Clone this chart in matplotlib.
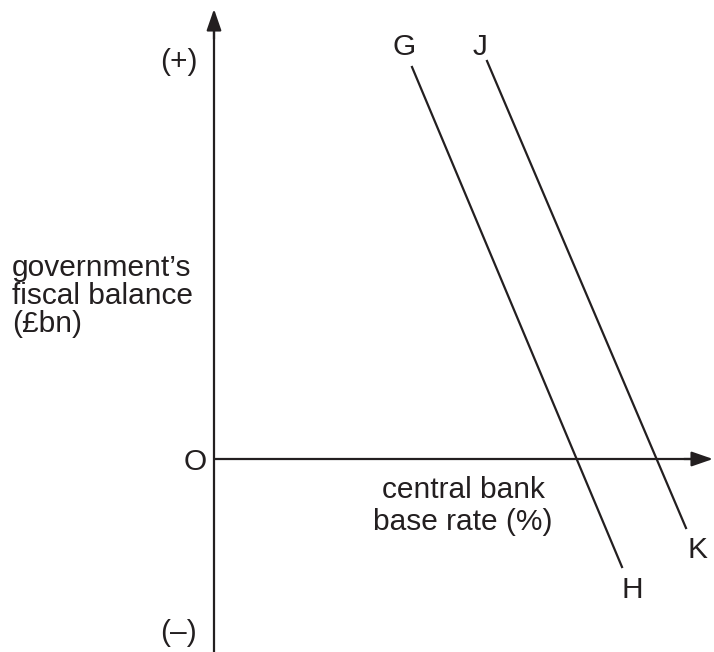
import matplotlib
matplotlib.use("Agg")
import matplotlib.pyplot as plt

# Data (origin O at axis intersection; x = base rate, y = fiscal balance, arbitrary units)
curve_names = ["GH", "JK"]
start_labels = ["G", "J"]
end_labels = ["H", "K"]
x_start = [198, 273]
y_start = [392, 398]
x_end = [408, 472]
y_end = [-108, -69]

x_label = "central bank\nbase rate (%)"
y_label = "government’s\nfiscal balance\n(£bn)"

plt.rcParams['font.family'] = ['Liberation Sans', 'DejaVu Sans']

fig = plt.figure(figsize=(7.14, 6.52), dpi=100)
ax = fig.add_axes([0, 0, 1, 1])
ax.set_xlim(-214, 500)
ax.set_ylim(-193, 459)
ax.axis('off')

col = '#231f20'
fs = 21.5

# Axes with arrows
ax.plot([0, 0], [-193, 430], color=col, lw=1.6, solid_capstyle='butt')
ax.annotate('', xy=(0, 450), xytext=(0, 420),
            arrowprops=dict(arrowstyle='-|>,head_length=1.3,head_width=0.45', color=col, lw=1.6, shrinkA=0, shrinkB=0))
ax.plot([0, 480], [0, 0], color=col, lw=1.6, solid_capstyle='butt')
ax.annotate('', xy=(499, 0), xytext=(470, 0),
            arrowprops=dict(arrowstyle='-|>,head_length=1.3,head_width=0.45', color=col, lw=1.6, shrinkA=0, shrinkB=0))

# Curves
start_off = [(-8, 20), (-7, 14)]
end_off = [(10, -23), (11, -22)]
for xs, ys, xe, ye, ls, le, so, eo in zip(x_start, y_start, x_end, y_end,
                                          start_labels, end_labels, start_off, end_off):
    ax.plot([xs, xe], [ys, ye], color=col, lw=1.6)
    ax.text(xs + so[0], ys + so[1], ls, fontsize=fs, color=col, ha='center', va='center')
    ax.text(xe + eo[0], ye + eo[1], le, fontsize=fs, color=col, ha='center', va='center')

# Text labels
ax.text(-19, -3, "O", fontsize=fs, color=col, ha='center', va='center')
ax.text(-35, 397, "(+)", fontsize=fs, color=col, ha='center', va='center')
ax.text(-36, -174, "(–)", fontsize=fs, color=col, ha='center', va='center')
ax.text(-202, 163, y_label, fontsize=fs, color=col, ha='left', va='center', linespacing=0.98)
ax.text(249, -47, x_label, fontsize=fs, color=col, ha='center', va='center', linespacing=1.17)

fig.savefig("out.png", dpi=100)
